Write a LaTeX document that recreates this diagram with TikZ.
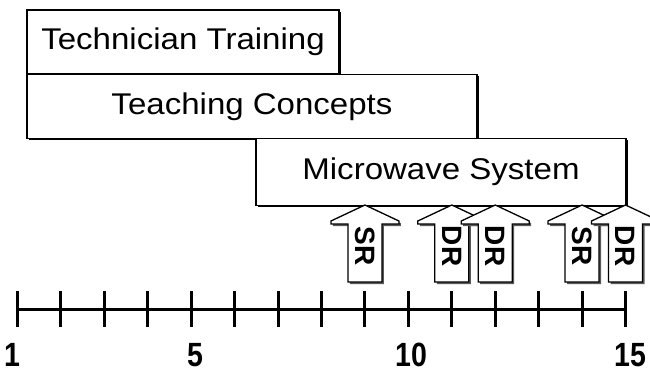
\documentclass[tikz,border=0pt]{standalone}
\usepackage{fontspec}
\setmainfont{Liberation Sans}
\usetikzlibrary{shadows}
\begin{document}
\begin{tikzpicture}[x=1pt,y=-1pt,
  phase/.style={draw=black, line width=1.4pt, fill=white, inner sep=0pt, outer sep=0pt,
    drop shadow={shadow xshift=1.6pt, shadow yshift=-1.6pt, fill=black, opacity=1}},
  review/.style={font=\bfseries\fontsize{28}{28}\selectfont, rotate=-90, inner sep=0pt},
  ticklab/.style={font=\bfseries\fontsize{30}{30}\selectfont, inner sep=0pt},
  axisline/.style={line width=3pt, line cap=rect},
  arrowbody/.style={draw=black, line width=1.3pt, fill=white, line join=miter},
  arrowshade/.style={fill=black!65}]
\clip (0,0) rectangle (650,373);
\useasboundingbox (0,0) rectangle (650,373);

% training phases
\node[phase, minimum width=312pt, minimum height=64pt] (tech) at (183,42)
  {\scalebox{1.18}[1.07]{\fontsize{28}{30}\selectfont Technician Training}};
\node[phase, minimum width=450pt, minimum height=64pt] (teach) at (252,106.5)
  {\scalebox{1.18}[1.07]{\fontsize{28}{30}\selectfont Teaching Concepts}};
\node[phase, minimum width=370pt, minimum height=67pt] (micro) at (441,172)
  {\scalebox{1.18}[1.07]{\fontsize{28}{30}\selectfont Microwave System}};

% time axis with ticks
\foreach \i in {1,...,15}{
  \pgfmathsetmacro{\tx}{17.5+(\i-1)*43.43}
  \coordinate (t\i) at (\tx,309);
}
\draw[axisline] (t1) -- (t15);
\foreach \i in {1,...,15}{
  \draw[line width=3pt] (t\i) +(0,-18) -- +(0,18);
}
\node[ticklab] (l1) at (12,355) {\scalebox{0.95}[1.12]{1}};
\node[ticklab] (l5) at (195,355) {\scalebox{0.95}[1.12]{5}};
\node[ticklab] (l10) at (411,355) {\scalebox{0.95}[1.12]{10}};
\node[ticklab] (l15) at (630,355) {\scalebox{0.95}[1.12]{15}};

% review arrows
\foreach \i/\lab in {9/SR,11/DR,12/DR,14/SR,15/DR}{
  \pgfmathsetmacro{\c}{17.5+(\i-1)*43.43}
  \fill[arrowshade, shift={(2,2.2)}]
    (\c,205) -- ({\c+34},221) -- ({\c+34},224) -- ({\c+17},224) -- ({\c+17},282)
    -- ({\c-17},282) -- ({\c-17},224) -- ({\c-34},224) -- ({\c-34},221) -- cycle;
  \draw[arrowbody]
    (\c,205) -- ({\c+34},221) -- ({\c+34},224) -- ({\c+17},224) -- ({\c+17},282)
    -- ({\c-17},282) -- ({\c-17},224) -- ({\c-34},224) -- ({\c-34},221) -- cycle;
  \node[review] (r\i) at (\c,246) {\lab};
}
\end{tikzpicture}
\end{document}
